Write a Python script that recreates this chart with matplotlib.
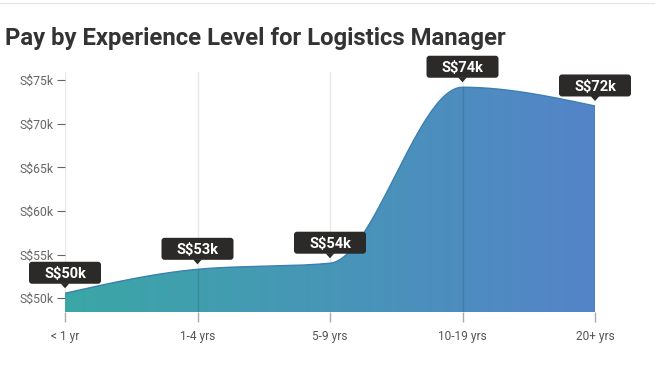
import numpy as np
import matplotlib
matplotlib.use("Agg")
import matplotlib.pyplot as plt
import matplotlib.transforms as mtrans
from matplotlib.path import Path
from matplotlib.patches import PathPatch, FancyBboxPatch, Polygon
from matplotlib.colors import LinearSegmentedColormap

plt.rcParams['font.family'] = ['Roboto', 'DejaVu Sans']

categories = ["< 1 yr", "1-4 yrs", "5-9 yrs", "10-19 yrs", "20+ yrs"]
values = [50.55, 53.3, 54.0, 74.2, 72.05]
labels = ["S$50k", "S$53k", "S$54k", "S$74k", "S$72k"]
yticks = [50, 55, 60, 65, 70, 75]
ytick_labels = ["S$50k", "S$55k", "S$60k", "S$65k", "S$70k", "S$75k"]


def monotone_x(x, y, n=60):
    x = np.asarray(x, float); y = np.asarray(y, float)
    m = len(x)
    h = np.diff(x); s = np.diff(y) / h
    t = np.zeros(m)
    for i in range(1, m - 1):
        p = (s[i - 1] * h[i] + s[i] * h[i - 1]) / (h[i - 1] + h[i])
        t[i] = (np.sign(s[i - 1]) + np.sign(s[i])) * min(abs(s[i - 1]), abs(s[i]), 0.5 * abs(p))
    t[0] = (3 * s[0] - t[1]) / 2
    t[-1] = (3 * s[-1] - t[-2]) / 2
    xs, ys = [], []
    for i in range(m - 1):
        u = np.linspace(0, 1, n, endpoint=(i == m - 2))
        dx = h[i]
        p0 = (x[i], y[i]); p3 = (x[i + 1], y[i + 1])
        p1 = (x[i] + dx / 3, y[i] + dx * t[i] / 3)
        p2 = (x[i + 1] - dx / 3, y[i + 1] - dx * t[i + 1] / 3)
        b = [(1 - u) ** 3, 3 * (1 - u) ** 2 * u, 3 * (1 - u) * u ** 2, u ** 3]
        xs.append(b[0] * p0[0] + b[1] * p1[0] + b[2] * p2[0] + b[3] * p3[0])
        ys.append(b[0] * p0[1] + b[1] * p1[1] + b[2] * p2[1] + b[3] * p3[1])
    return np.concatenate(xs), np.concatenate(ys)


DPI = 100
fig = plt.figure(figsize=(6.55, 3.66), dpi=DPI)
ax = fig.add_axes([65 / 655, 1 - 312 / 366, 530 / 655, 240 / 366])

xpos = np.arange(len(categories))
ymin, ymax = 48.4, 75.95
ax.set_xlim(xpos[0], xpos[-1])
ax.set_ylim(ymin, ymax)

cx, cy = monotone_x(xpos, values)
verts = [(cx[0], ymin)] + list(zip(cx, cy)) + [(cx[-1], ymin), (cx[0], ymin)]
codes = [Path.MOVETO] + [Path.LINETO] * (len(verts) - 2) + [Path.CLOSEPOLY]
path = Path(verts, codes)
patch = PathPatch(path, facecolor='none', edgecolor='none')
ax.add_patch(patch)

cmap = LinearSegmentedColormap.from_list("g", ["#3aa7a6", "#5484c8"])
grad = np.linspace(0, 1, 256).reshape(1, -1)
im = ax.imshow(grad, extent=[xpos[0], xpos[-1], ymin, ymax], aspect='auto',
               cmap=cmap, origin='lower', zorder=1)
im.set_clip_path(patch)

# outline
ax.plot(cx, cy, color="#3c7fb0", lw=1.0, zorder=2)
ax.plot([cx[-1], cx[-1]], [ymin, cy[-1]], color="#4a7fcc", lw=1.2, zorder=2)

# vertical grid lines (light, behind the area) and darker ones inside the area
for i, xp in enumerate(xpos):
    ax.axvline(xp, color="#e8e8e8", lw=1, zorder=0)
    if i in (1, 3):
        ln = ax.axvline(xp, color="black", alpha=0.12, lw=1, zorder=3)
        ln.set_clip_path(patch)

for sp in ax.spines.values():
    sp.set_visible(False)

ax.set_yticks(yticks)
ax.set_yticklabels(ytick_labels)
ax.set_xticks(xpos)
ax.set_xticklabels(categories)
ax.tick_params(axis='y', length=6, width=0.8, color="#666666", labelcolor="#666666",
               labelsize=8.8, pad=2)
ax.tick_params(axis='x', length=7, width=1, color="#aaaaaa", labelcolor="#555555",
               labelsize=8.6, pad=6)
for i, tl in enumerate(ax.xaxis.get_major_ticks()):
    if i in (1, 3):
        tl.tick1line.set_color("#555566")

# value labels (box sizes in pixels)
BW, BH, GAP, TRI = 72, 22, 9.5, 4.5
box_col = "#2c2929"
for xp, v, lab in zip(xpos, values, labels):
    pixel_tr = mtrans.Affine2D() + mtrans.ScaledTranslation(xp, v, ax.transData)
    box = FancyBboxPatch((-BW / 2, GAP), BW, BH,
                         boxstyle="round,pad=0,rounding_size=3",
                         fc=box_col, ec="none", transform=pixel_tr, clip_on=False, zorder=6)
    ax.add_patch(box)
    tri = Polygon([(-4.5, GAP + 0.5), (4.5, GAP + 0.5), (0, GAP - TRI)], closed=True,
                  fc=box_col, ec="none", transform=pixel_tr, clip_on=False, zorder=6)
    ax.add_patch(tri)
    ax.text(0, GAP + BH / 2, lab, transform=pixel_tr, ha='center', va='center_baseline',
            color='white', fontsize=10.5, fontweight='bold', zorder=7, clip_on=False)

fig.text(5 / 655, 1 - 38 / 366, "Pay by Experience Level for Logistics Manager",
         fontsize=17.2, fontweight='bold', color="#333333", ha='left', va='center')
fig.add_artist(plt.Line2D([0, 1], [1 - 3 / 366, 1 - 3 / 366], color="#e6e6e6", lw=1))

fig.savefig("out.png", dpi=DPI)
